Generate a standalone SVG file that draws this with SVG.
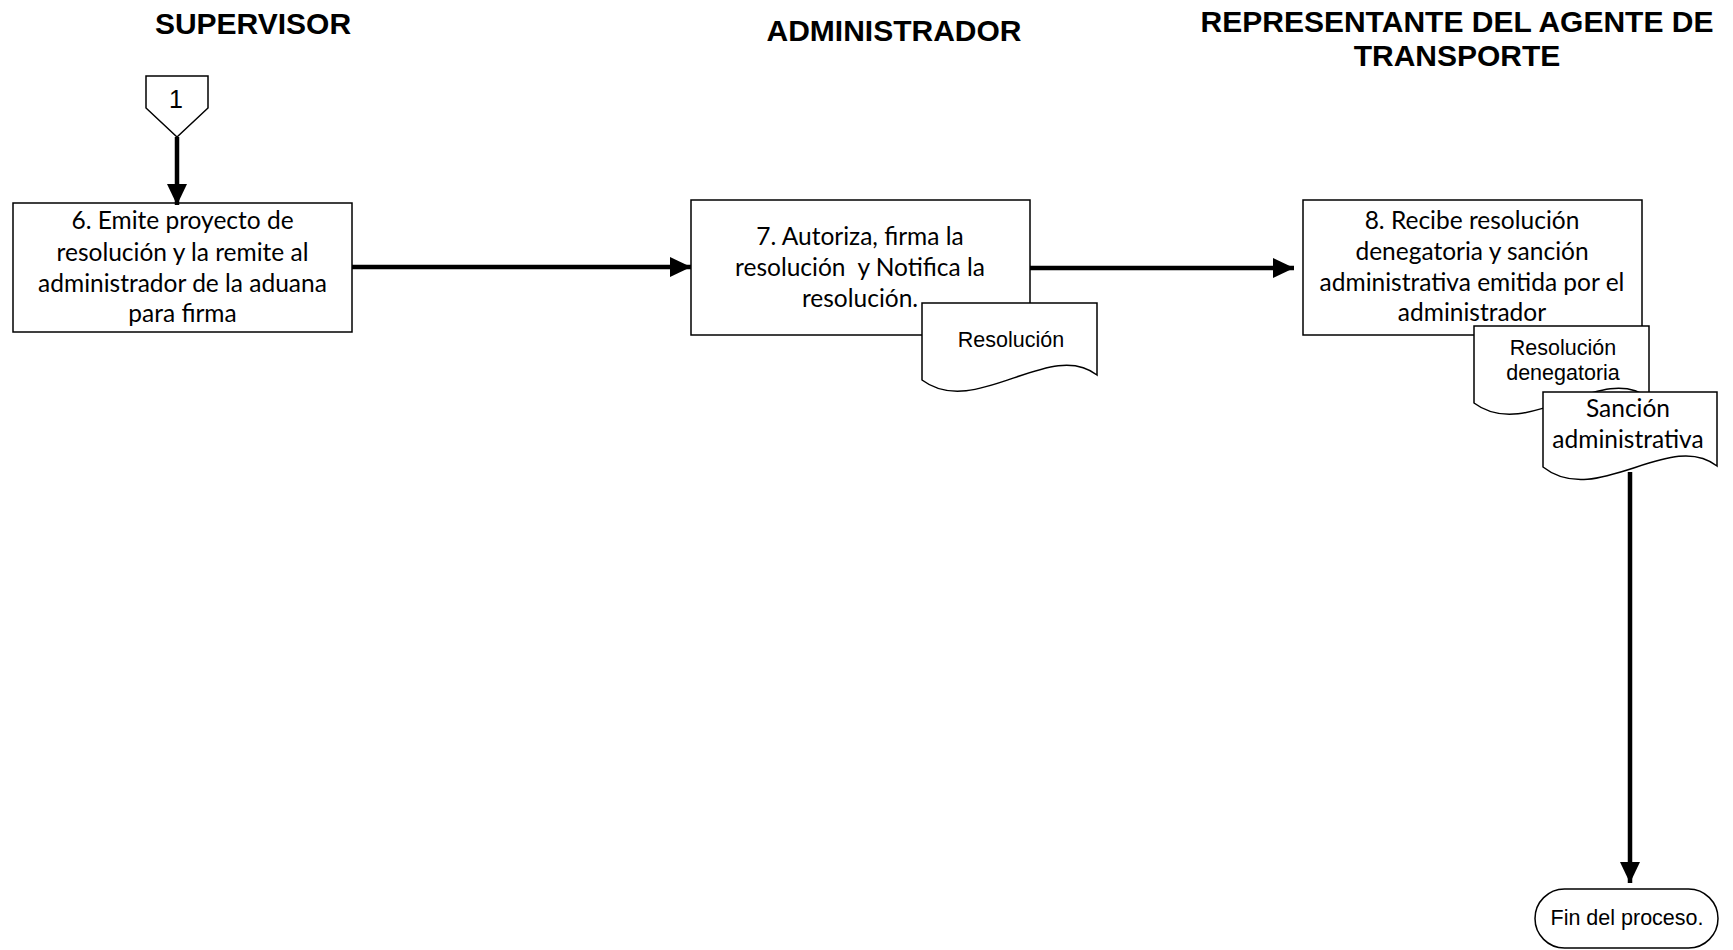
<svg xmlns="http://www.w3.org/2000/svg" width="1733" height="950" viewBox="0 0 1733 950">
  <style>
    .hdr { font-family: "Liberation Sans", Arial, sans-serif; font-weight: bold; font-size: 30px; fill: #000; text-anchor: middle; }
    .box { fill: #fff; stroke: #000; stroke-width: 1.5; }
    .btxt { font-family: Lato, "Liberation Sans", sans-serif; font-size: 24.5px; fill: #000; text-anchor: middle; white-space: pre; }
    .atxt { font-family: "Liberation Sans", Arial, sans-serif; font-size: 21.5px; fill: #000; text-anchor: middle; }
    .conn { fill: none; stroke: #000; stroke-width: 4.5; }
  </style>
  <defs>
    <marker id="arrow" markerUnits="userSpaceOnUse" markerWidth="22" markerHeight="22" refX="21" refY="10" orient="auto">
      <path d="M0,0 L21,10 L0,20 Z" fill="#000"/>
    </marker>
  </defs>
  <rect width="1733" height="950" fill="#fff"/>

  <g id="headers">
    <text class="hdr" x="253" y="34">SUPERVISOR</text>
    <text class="hdr" x="894" y="41">ADMINISTRADOR</text>
    <text class="hdr" x="1457" y="32">REPRESENTANTE DEL AGENTE DE</text>
    <text class="hdr" x="1457" y="66">TRANSPORTE</text>
  </g>

  <g id="offpage1">
    <polygon class="box" points="146,76 208,76 208,108 177,137 146,108"/>
    <text class="atxt" x="176" y="108" style="font-size:25px">1</text>
  </g>

  <g id="step6">
    <rect class="box" x="13" y="203" width="339" height="129"/>
    <text class="btxt" x="182.5" y="229">6. Emite proyecto de</text>
    <text class="btxt" x="182.5" y="261">resolución y la remite al</text>
    <text class="btxt" x="182.5" y="292">administrador de la aduana</text>
    <text class="btxt" x="182.5" y="322">para firma</text>
  </g>

  <g id="step7">
    <rect class="box" x="691" y="200" width="339" height="135"/>
    <text class="btxt" x="860" y="245">7. Autoriza, firma la</text>
    <text class="btxt" x="860" y="276">resolución  y Notifica la</text>
    <text class="btxt" x="860" y="307">resolución.</text>
  </g>

  <g id="doc-resolucion">
    <path class="box" transform="translate(922,303)" d="M0,0 H175 V72 C128,35 53,117 0,77 Z"/>
    <text class="atxt" x="1011" y="347">Resolución</text>
  </g>

  <g id="step8">
    <rect class="box" x="1303" y="200" width="339" height="135"/>
    <text class="btxt" x="1472" y="229">8. Recibe resolución</text>
    <text class="btxt" x="1472" y="260">denegatoria y sanción</text>
    <text class="btxt" x="1472" y="291">administrativa emitida por el</text>
    <text class="btxt" x="1472" y="321">administrador</text>
  </g>

  <g id="doc-denegatoria">
    <path class="box" transform="translate(1474,326)" d="M0,0 H175 V72 C128,35 53,117 0,77 Z"/>
    <text class="atxt" x="1563" y="355">Resolución</text>
    <text class="atxt" x="1563" y="380">denegatoria</text>
  </g>

  <g id="doc-sancion">
    <path class="box" transform="translate(1543,392)" d="M0,0 H174 V74 C127,37 53,117 0,75 Z"/>
    <text class="btxt" x="1628" y="417">Sanción</text>
    <text class="btxt" x="1628" y="448">administrativa</text>
  </g>

  <g id="end">
    <rect class="box" x="1535" y="889" width="183" height="59" rx="29.5" ry="29.5"/>
    <text class="atxt" x="1627" y="925">Fin del proceso.</text>
  </g>

  <g id="connectors">
    <line class="conn" x1="177" y1="137" x2="177" y2="205" marker-end="url(#arrow)"/>
    <line class="conn" x1="352" y1="267" x2="691" y2="267" marker-end="url(#arrow)"/>
    <line class="conn" x1="1030" y1="268" x2="1294" y2="268" marker-end="url(#arrow)"/>
    <line class="conn" x1="1630" y1="472" x2="1630" y2="883" marker-end="url(#arrow)"/>
  </g>
</svg>
